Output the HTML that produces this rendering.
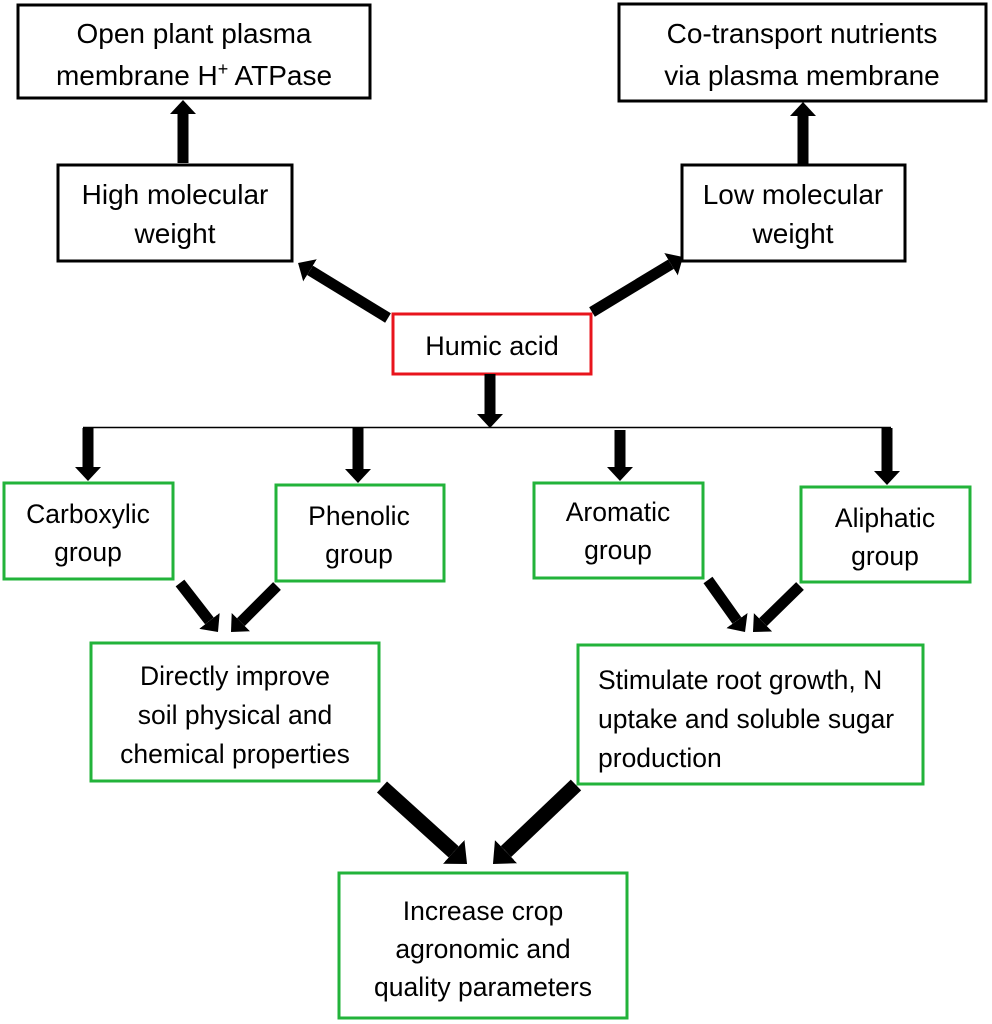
<!DOCTYPE html>
<html><head><meta charset="utf-8"><style>
html,body{margin:0;padding:0;background:#fff;}
svg{display:block;}
text{font-family:"Liberation Sans",sans-serif;fill:#000;}
.t{font-size:28px;}
.s{font-size:26.5px;}
</style></head><body>
<svg width="992" height="1024" viewBox="0 0 992 1024" xmlns="http://www.w3.org/2000/svg">
<defs>
<marker id="h" viewBox="0 0 14 26" refX="0" refY="13" markerWidth="14" markerHeight="26" markerUnits="userSpaceOnUse" orient="auto"><path d="M0,0 L14,13 L0,26 z" fill="#000"/></marker>
<marker id="H" viewBox="0 0 18 32" refX="0" refY="16" markerWidth="18" markerHeight="32" markerUnits="userSpaceOnUse" orient="auto"><path d="M0,0 L18,16 L0,32 z" fill="#000"/></marker>
</defs>
<g fill="none" stroke-width="3">
<rect x="18" y="5" width="352" height="93" stroke="#000"/>
<rect x="619" y="4" width="367" height="97" stroke="#000"/>
<rect x="58" y="165" width="234" height="96" stroke="#000"/>
<rect x="682" y="165" width="223" height="96" stroke="#000"/>
<rect x="393" y="314" width="198" height="60" stroke="#e8141c"/>
<g stroke="#22b33a">
<rect x="4" y="483" width="169" height="96"/>
<rect x="276" y="485" width="168" height="96"/>
<rect x="534" y="483" width="169" height="95"/>
<rect x="801" y="487" width="169" height="95"/>
<rect x="91" y="643" width="288" height="138"/>
<rect x="578" y="645" width="345" height="139"/>
<rect x="339" y="873" width="288" height="145"/>
</g>
</g>
<line x1="83" y1="427.5" x2="891" y2="427.5" stroke="#000" stroke-width="1.5"/>
<g stroke="#000" stroke-width="11" fill="none">
<line x1="183" y1="163" x2="183" y2="114" marker-end="url(#h)"/>
<line x1="803" y1="164" x2="803" y2="116" marker-end="url(#h)"/>
<line x1="388" y1="318" x2="310" y2="270.3" marker-end="url(#h)"/>
<line x1="592" y1="312" x2="671" y2="264.2" marker-end="url(#h)"/>
<line x1="490" y1="374" x2="490" y2="414" marker-end="url(#h)"/>
<line x1="88" y1="428" x2="88" y2="467" marker-end="url(#h)"/>
<line x1="358" y1="428" x2="358" y2="469" marker-end="url(#h)"/>
<line x1="620" y1="430" x2="620" y2="467" marker-end="url(#h)"/>
<line x1="887" y1="428" x2="887" y2="471" marker-end="url(#h)"/>
<line x1="180" y1="583" x2="209.4" y2="620.9" marker-end="url(#h)"/>
<line x1="277" y1="586" x2="240.9" y2="622.1" marker-end="url(#h)"/>
<line x1="708" y1="580" x2="736.9" y2="620.6" marker-end="url(#h)"/>
<line x1="800" y1="586" x2="763" y2="622.2" marker-end="url(#h)"/>
</g>
<g stroke="#000" stroke-width="15" fill="none">
<line x1="382" y1="787" x2="453.7" y2="851.9" marker-end="url(#H)"/>
<line x1="576" y1="785" x2="506" y2="851.6" marker-end="url(#H)"/>
</g>
<g class="t" text-anchor="middle">
<text x="194" y="43">Open plant plasma</text>
<text x="194" y="85">membrane H<tspan font-size="18" dy="-10">+</tspan><tspan dy="10"> ATPase</tspan></text>
<text x="802" y="43">Co-transport nutrients</text>
<text x="802" y="85">via plasma membrane</text>
<text x="175" y="204">High molecular</text>
<text x="175" y="243">weight</text>
<text x="793" y="204">Low molecular</text>
<text x="793" y="243">weight</text>
<text x="492" y="355" font-size="27">Humic acid</text>
</g>
<g class="s" text-anchor="middle">
<text x="88" y="523">Carboxylic</text>
<text x="88" y="561">group</text>
<text x="359" y="525">Phenolic</text>
<text x="359" y="563">group</text>
<text x="618" y="521">Aromatic</text>
<text x="618" y="559">group</text>
<text x="885" y="527">Aliphatic</text>
<text x="885" y="565">group</text>
<text x="235" y="685">Directly improve</text>
<text x="235" y="724">soil physical and</text>
<text x="235" y="763">chemical properties</text>
<text x="483" y="920">Increase crop</text>
<text x="483" y="958">agronomic and</text>
<text x="483" y="996">quality parameters</text>
</g>
<g class="s">
<text x="598" y="689">Stimulate root growth, N</text>
<text x="598" y="728">uptake and soluble sugar</text>
<text x="598" y="767">production</text>
</g>
</svg>
</body></html>
